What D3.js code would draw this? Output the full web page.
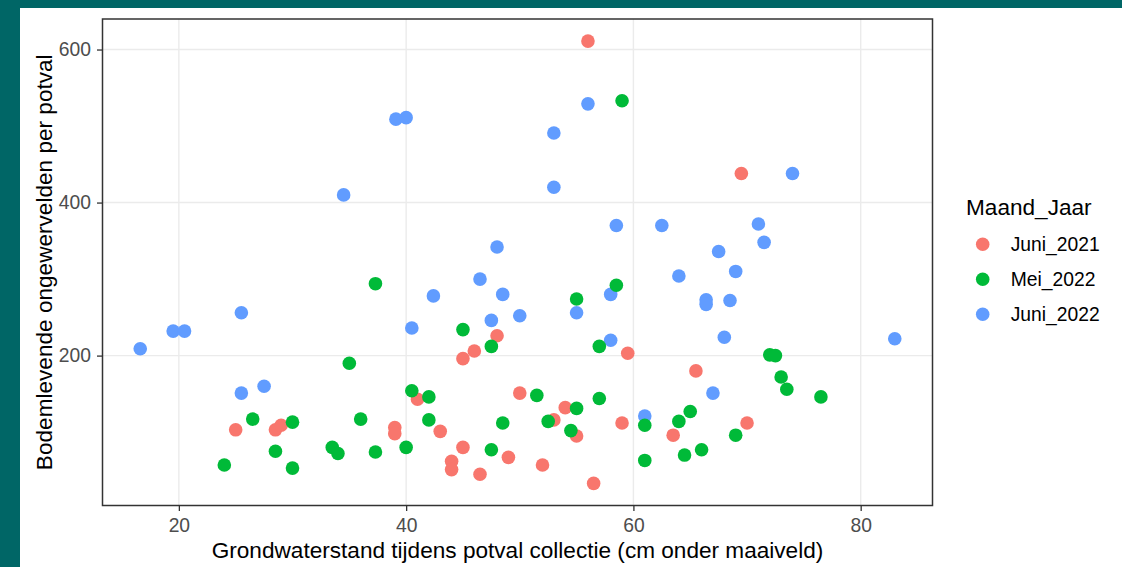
<!DOCTYPE html>
<html>
<head>
<meta charset="utf-8">
<script src="https://cdn.jsdelivr.net/npm/d3@7"></script>
<style>
  html, body { margin: 0; padding: 0; background: #006666; }
  svg { display: block; }
  text { font-family: "Liberation Sans", Arial, sans-serif; }
</style>
</head>
<body>
<svg id="chart" width="1122" height="567"></svg>
<script>

const groups = ['Juni_2021', 'Mei_2022', 'Juni_2022']
const colors = ['#F8766D', '#00BA38', '#619CFF']

// [grondwaterstand, aantal ongewervelden]
const juni2021 = [
    [56, 611], [69.5, 438], [48, 226], [46, 206], [45, 196], [59.5, 203], [65.5, 180],
    [50, 151], [41, 143], [54, 132], [53, 116], [59, 112], [70, 112], [39, 106], [39, 98],
    [25, 103], [28.5, 103], [29, 109], [43, 101], [63.5, 96], [55, 95], [45, 80], [49, 67],
    [44, 62], [44, 51], [46.5, 45], [52, 57], [56.5, 33]
]

const mei2022 = [
    [59, 533], [37.3, 294], [58.5, 292], [55, 274], [45, 234], [47.5, 212], [57, 212],
    [35, 190], [72, 201], [72.5, 200], [73, 172], [73.5, 156], [76.5, 146], [40.5, 154],
    [42, 146], [51.5, 148], [55, 131], [57, 144], [65, 127], [64, 114], [26.5, 117],
    [30, 113], [36, 117], [42, 116], [48.5, 112], [52.5, 114], [54.5, 102], [61, 109],
    [69, 96], [40, 80], [47.5, 77], [66, 77], [28.5, 75], [33.5, 80], [34, 72], [37.3, 74],
    [64.5, 70], [61, 63], [24, 57], [30, 53]
]

const juni2022 = [
    [56, 529], [39.1, 509], [40, 511], [53, 491], [53, 420], [34.5, 410], [74, 438],
    [71, 372], [62.5, 370], [58.5, 370], [71.5, 348], [48, 342], [67.5, 336], [69, 310],
    [64, 304], [46.5, 300], [48.5, 280], [58, 280], [42.4, 278], [66.4, 273], [66.4, 267],
    [68.5, 272], [25.5, 256], [55, 256], [50, 252], [47.5, 246], [40.5, 236], [19.5, 232],
    [20.5, 232], [68, 224], [83, 222], [58, 220], [16.6, 209], [27.5, 160], [25.5, 151],
    [67, 151], [61, 121]
]

const xTicks = [20, 40, 60, 80]
const yTicks = [200, 400, 600]

const xTitle = 'Grondwaterstand tijdens potval collectie (cm onder maaiveld)'
const yTitle = 'Bodemlevende ongewervelden per potval'
const legendTitle = 'Maand_Jaar'

const series = [juni2021, mei2022, juni2022]

const panel = { left: 102.5, top: 19, right: 932.5, bottom: 505.5 }

const svg = d3.select('#chart')

svg.append('rect').attr('x', 20).attr('y', 8).attr('width', 1102).attr('height', 559).attr('fill', 'white')

const all = series.flat()
const expand = ext => {
    const r = ext[1] - ext[0]
    return [ ext[0] - 0.05 * r, ext[1] + 0.05 * r ]
}

const x = d3.scaleLinear().domain(expand(d3.extent(all, d => d[0]))).range([ panel.left, panel.right ])
const y = d3.scaleLinear().domain(expand(d3.extent(all, d => d[1]))).range([ panel.bottom, panel.top ])

const grid = svg.append('g').attr('id', 'grid')

grid.selectAll('.gx').data(xTicks).enter()
    .append('line')
    .attr('x1', d => x(d)).attr('x2', d => x(d))
    .attr('y1', panel.top).attr('y2', panel.bottom)
    .attr('stroke', '#EBEBEB').attr('stroke-width', 1.4)

grid.selectAll('.gy').data(yTicks).enter()
    .append('line')
    .attr('y1', d => y(d)).attr('y2', d => y(d))
    .attr('x1', panel.left).attr('x2', panel.right)
    .attr('stroke', '#EBEBEB').attr('stroke-width', 1.4)

// volgorde: blauw onder, groen boven
const drawOrder = [2, 0, 1]

drawOrder.forEach(i => {
    svg.append('g')
        .selectAll('circle')
        .data(series[i])
        .enter()
        .append('circle')
        .attr('cx', d => x(d[0]))
        .attr('cy', d => y(d[1]))
        .attr('r', 6.8)
        .attr('fill', colors[i])
})

svg.append('rect')
    .attr('x', panel.left).attr('y', panel.top)
    .attr('width', panel.right - panel.left).attr('height', panel.bottom - panel.top)
    .attr('fill', 'none').attr('stroke', '#333333').attr('stroke-width', 1.5)

const xg = svg.append('g')
    .attr('transform', `translate(0,${panel.bottom})`)
    .call(d3.axisBottom(x).tickValues(xTicks).tickSize(5.5).tickPadding(7.5))

const yg = svg.append('g')
    .attr('transform', `translate(${panel.left},0)`)
    .call(d3.axisLeft(y).tickValues(yTicks).tickSize(5.5).tickPadding(6))

svg.selectAll('.domain').remove()
svg.selectAll('.tick line').attr('stroke', '#333333').attr('stroke-width', 1.3)
svg.selectAll('.tick text')
    .attr('fill', '#4D4D4D')
    .style('font-size', '19.3px')
    .style('font-family', '"Liberation Sans", Arial, sans-serif')

svg.append('text')
    .attr('x', (panel.left + panel.right) / 2)
    .attr('y', 558)
    .attr('text-anchor', 'middle')
    .style('font-size', '22.6px')
    .text(xTitle)

svg.append('text')
    .attr('transform', `translate(52,${(panel.top + panel.bottom) / 2}) rotate(-90)`)
    .attr('text-anchor', 'middle')
    .style('font-size', '22.6px')
    .text(yTitle)

const legend = svg.append('g').attr('id', 'legend')

legend.append('text')
    .attr('x', 966)
    .attr('y', 215)
    .style('font-size', '22.6px')
    .text(legendTitle)

const key = legend.selectAll('.key').data(groups).enter()
    .append('g')
    .attr('transform', (d, i) => `translate(982.7,${244.3 + i * 35})`)

key.append('circle').attr('r', 6.8).attr('fill', (d, i) => colors[i])

key.append('text')
    .attr('x', 28)
    .attr('dy', '0.36em')
    .style('font-size', '19.3px')
    .text(d => d)

</script>
</body>
</html>
